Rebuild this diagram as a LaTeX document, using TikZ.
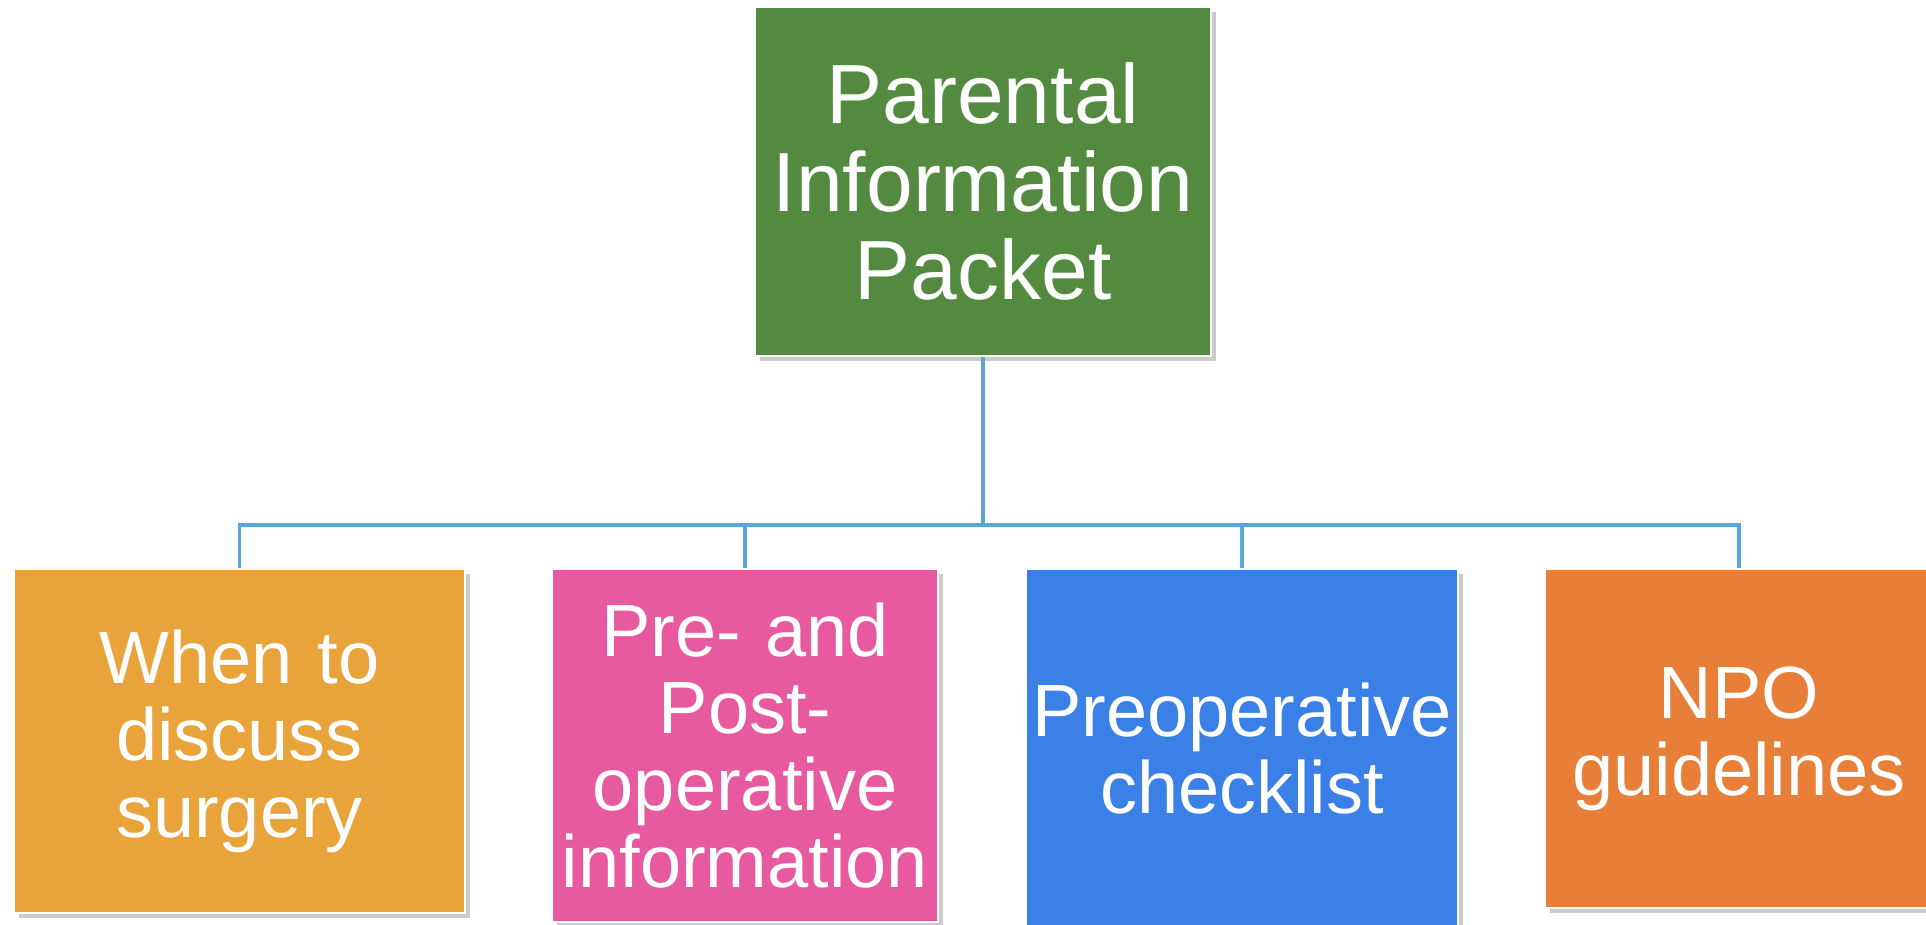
\documentclass[tikz,border=0pt]{standalone}
\usepackage{fontspec}
\setmainfont{Liberation Sans}
\usepackage{tikz}
\usetikzlibrary{shadows}
\definecolor{packgreen}{RGB}{84,138,63}
\definecolor{whenorange}{RGB}{232,163,58}
\definecolor{postpink}{RGB}{231,90,159}
\definecolor{preblue}{RGB}{58,128,230}
\definecolor{npoorange}{RGB}{232,127,56}
\definecolor{linkblue}{RGB}{90,166,218}
\tikzset{
  topic/.style={rectangle, draw=white, line width=1pt, inner sep=0pt,
    text=white, align=center,
    drop shadow={shadow xshift=2.5pt, shadow yshift=-2.5pt, fill=black!45, opacity=0.45}},
  link/.style={draw=linkblue, line width=1.75pt}
}

\begin{document}
\begin{tikzpicture}[x=0.5pt,y=-0.5pt]
\useasboundingbox[fill=white] (0,0) rectangle (1926,925);
\node[topic, fill=packgreen, minimum width=228pt, minimum height=174.5pt,
  text width=226pt, font=\fontsize{42}{44}\selectfont] (packet) at (983,181.5)
  {Parental\\Information\\Packet};
\node[topic, fill=whenorange, minimum width=225.5pt, minimum height=172pt,
  text width=223pt, font=\fontsize{37}{38.5}\selectfont] (when) at (239.5,741)
  {When to\\discuss\\surgery};
\node[topic, fill=postpink, minimum width=193pt, minimum height=176.5pt,
  text width=191pt, font=\fontsize{37}{38.5}\selectfont] (prepost) at (745,745.5)
  {Pre- and\\Post-\\operative\\information};
\node[topic, fill=preblue, minimum width=216pt, minimum height=179.5pt,
  text width=214pt, font=\fontsize{37}{38.5}\selectfont] (preop) at (1242,748.5)
  {Preoperative\\checklist};
\node[topic, fill=npoorange, minimum width=194pt, minimum height=169.5pt,
  text width=192pt, font=\fontsize{37}{38.5}\selectfont] (npo) at (1739,738.5)
  {NPO\\guidelines};
\coordinate (bus) at (983,525);
\foreach \n in {when,prepost,preop,npo}
  \draw[link] (packet.south) -- (packet.south |- bus) -| (\n.north);
\end{tikzpicture}
\end{document}
